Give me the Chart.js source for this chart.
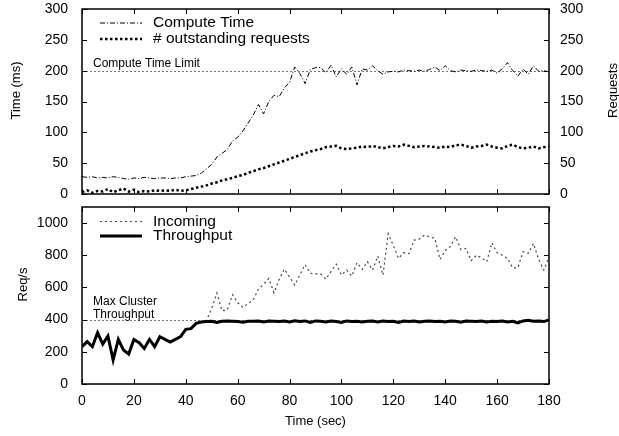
<!DOCTYPE html>
<html>
<head>
<meta charset="utf-8">
<script src="https://cdn.jsdelivr.net/npm/chart.js@4.4.0/dist/chart.umd.min.js"></script>
<style>
  html, body { margin: 0; padding: 0; background: #fff; overflow: hidden; }
  #wrap { position: relative; width: 619px; height: 436px; overflow: hidden; }
  #wrap canvas { position: absolute; left: 0; }
  #chart-time { top: 0; }
  #chart-req { top: 200px; }
</style>
</head>
<body>
<div id="wrap">
  <canvas id="chart-time" width="630" height="200"></canvas>
  <canvas id="chart-req" width="630" height="236"></canvas>
</div>
<script>
// sample times (sec)
const seconds = [
  0, 2, 4, 6, 8, 10, 12, 14, 16, 18,
  20, 22, 24, 26, 28, 30, 32, 34, 36, 38,
  40, 42, 44, 46, 48, 50, 52, 54, 56, 58,
  60, 62, 64, 66, 68, 70, 72, 74, 76, 78,
  80, 82, 84, 86, 88, 90, 92, 94, 96, 98,
  100, 102, 104, 106, 108, 110, 112, 114, 116, 118,
  120, 122, 124, 126, 128, 130, 132, 134, 136, 138,
  140, 142, 144, 146, 148, 150, 152, 154, 156, 158,
  160, 162, 164, 166, 168, 170, 172, 174, 176, 178,
  180
]

// compute time (ms)
const computeTime = [
  28, 27, 28, 26, 27, 26, 28, 27, 25, 24,
  26, 25, 27, 26, 25, 26, 26, 25, 26, 26,
  28, 29, 30, 34, 41, 48, 60, 66, 72, 86,
  92, 102, 115, 128, 145, 130, 150, 160, 158, 172,
  181, 206, 195, 179, 202, 205, 205, 197, 209, 190,
  203, 194, 206, 177, 203, 201, 208, 200, 194, 198,
  199, 198, 201, 200, 199, 201, 199, 202, 206, 200,
  208, 200, 198, 201, 200, 199, 201, 200, 199, 201,
  196, 203, 213, 200, 191, 203, 194, 208, 199, 200,
  198
]

// # outstanding requests
const outstanding = [
  3, 6, 2, 5, 4, 8, 3, 6, 9, 4,
  7, 3, 5, 4, 6, 5, 6, 5, 7, 5,
  6, 8, 10, 12, 14, 17, 19, 22, 24, 26,
  29, 31, 34, 37, 40, 42, 45, 48, 51, 54,
  57, 60, 63, 66, 69, 71, 73, 76, 77, 78,
  74, 73, 74, 75, 77, 76, 78, 76, 74, 76,
  78, 77, 80, 78, 76, 77, 78, 77, 76, 75,
  77, 76, 79, 80, 78, 75, 77, 78, 80, 77,
  75, 74, 78, 80, 76, 74, 75, 77, 74, 76,
  77
]

// incoming req/s
const incoming = [
  232, 263, 232, 319, 248, 298, 149, 277, 211, 186,
  277, 257, 221, 277, 232, 294, 277, 261, 277, 294,
  340, 344, 377, 385, 395, 470, 565, 455, 460, 555,
  505, 476, 500, 522, 590, 620, 656, 567, 650, 714,
  665, 615, 680, 742, 688, 685, 683, 652, 700, 745,
  677, 708, 671, 754, 712, 760, 708, 795, 677, 934,
  860, 781, 816, 810, 894, 900, 925, 915, 905, 774,
  830, 855, 915, 836, 843, 766, 800, 785, 760, 878,
  815, 800, 781, 722, 722, 822, 812, 874, 775, 708,
  791
]

// throughput req/s
const throughput = [
  232, 263, 232, 319, 248, 298, 149, 277, 211, 186,
  277, 257, 221, 277, 232, 294, 277, 261, 277, 294,
  340, 344, 377, 385, 388, 390, 382, 390, 392, 390,
  388, 384, 390, 390, 392, 385, 392, 390, 388, 392,
  385, 393, 388, 392, 383, 392, 390, 385, 392, 388,
  383, 392, 388, 390, 385, 390, 392, 386, 392, 388,
  390, 383, 391, 388, 392, 386, 390, 392, 388, 390,
  385, 392, 390, 384, 392, 390, 388, 392, 386, 390,
  388, 392, 386, 390, 380, 392, 396, 390, 392, 388,
  398
]

const computeLimit = 200
const maxClusterThroughput = 400

const fontFamily = "'Liberation Sans', Arial, Helvetica, sans-serif"
Chart.defaults.font.family = fontFamily
Chart.defaults.color = "#000"

const points = values => seconds.map((t, i) => ({ x: t, y: values[i] }))

// box + inward tick marks like gnuplot
const frame = {
  id: "frame",
  afterDatasetsDraw(chart) {
    const { ctx, chartArea: a, scales } = chart
    ctx.save()
    ctx.strokeStyle = "#000"
    ctx.lineWidth = 1
    ctx.beginPath()
    scales.x.ticks.forEach(t => {
      const px = Math.round(scales.x.getPixelForValue(t.value)) + 0.5
      ctx.moveTo(px, a.bottom); ctx.lineTo(px, a.bottom - 5)
      ctx.moveTo(px, a.top); ctx.lineTo(px, a.top + 5)
    })
    scales.y.ticks.forEach(t => {
      const py = Math.round(scales.y.getPixelForValue(t.value)) + 0.5
      ctx.moveTo(a.left, py); ctx.lineTo(a.left + 5, py)
      ctx.moveTo(a.right, py); ctx.lineTo(a.right - 5, py)
    })
    ctx.stroke()
    ctx.lineWidth = 1.5
    ctx.strokeRect(a.left, a.top, a.right - a.left, a.bottom - a.top)
    ctx.restore()
  }
}

// dotted reference line with a small caption
const limitLine = {
  id: "limitLine",
  beforeDatasetsDraw(chart, args, opts) {
    const { ctx, chartArea: a, scales } = chart
    const py = Math.round(scales.y.getPixelForValue(opts.value)) + 0.5
    ctx.save()
    ctx.strokeStyle = "#777"
    ctx.lineWidth = 1
    ctx.setLineDash([2, 2])
    ctx.beginPath()
    ctx.moveTo(a.left, py)
    ctx.lineTo(a.right, py)
    ctx.stroke()
    ctx.fillStyle = "#000"
    ctx.font = "12px " + fontFamily
    ctx.textBaseline = "alphabetic"
    const lines = opts.text
    lines.forEach((s, i) => {
      ctx.fillText(s, a.left + 11, py - opts.gap - (lines.length - 1 - i) * 13)
    })
    ctx.restore()
  }
}

// legend drawn inside the plot, top left
const keyBox = {
  id: "keyBox",
  afterDraw(chart, args, opts) {
    const { ctx, chartArea: a } = chart
    ctx.save()
    chart.data.datasets.forEach((ds, i) => {
      const y = a.top + opts.first + i * opts.step
      ctx.strokeStyle = ds.borderColor
      ctx.lineWidth = ds.borderWidth
      ctx.setLineDash(ds.borderDash || [])
      ctx.beginPath()
      ctx.moveTo(100, y)
      ctx.lineTo(142, y)
      ctx.stroke()
      ctx.setLineDash([])
      ctx.fillStyle = "#000"
      ctx.font = "15.5px " + fontFamily
      ctx.textBaseline = "middle"
      ctx.fillText(ds.label, 153, y)
    })
    ctx.restore()
  }
}

// y titles, both rotated bottom-to-top and sitting a bit above centre (gnuplot style)
const sideTitles = {
  id: "sideTitles",
  afterDraw(chart, args, opts) {
    const { ctx, chartArea: a } = chart
    const cy = (a.top + a.bottom) / 2 - 11
    ctx.save()
    ctx.fillStyle = "#000"
    ctx.font = "13px " + fontFamily
    ctx.textAlign = "center"
    ctx.textBaseline = "middle"
    opts.items.forEach(it => {
      ctx.save()
      ctx.translate(it.x, cy)
      ctx.rotate(-Math.PI / 2)
      ctx.fillText(it.text, 0, 0)
      ctx.restore()
    })
    ctx.restore()
  }
}

const noPad = s => { s.paddingTop = 0; s.paddingBottom = 0; s.paddingLeft = 0; s.paddingRight = 0 }
const plain = v => v

new Chart(document.getElementById("chart-time"), {
  type: "line",
  data: {
    datasets: [{
      label: "Compute Time",
      data: points(computeTime),
      borderColor: "#000",
      borderWidth: 1,
      borderDash: [5, 2, 1, 2],
      pointRadius: 0,
      yAxisID: "y"
    }, {
      label: "# outstanding requests",
      data: points(outstanding),
      borderColor: "#000",
      borderWidth: 2.5,
      borderDash: [2.5, 2.5],
      pointRadius: 0,
      yAxisID: "y2"
    }]
  },
  options: {
    responsive: false,
    animation: false,
    devicePixelRatio: 1,
    layout: { padding: { top: 9, left: 0, right: 0, bottom: 0 } },
    plugins: {
      legend: { display: false },
      tooltip: { enabled: false },
      limitLine: { value: computeLimit, text: ["Compute Time Limit"], gap: 5 },
      keyBox: { first: 14, step: 16 },
      sideTitles: { items: [{ text: "Time (ms)", x: 16 }, { text: "Requests", x: 613 }] }
    },
    scales: {
      x: {
        type: "linear", min: 0, max: 180,
        ticks: { stepSize: 20, display: false },
        grid: { display: false, drawTicks: false },
        border: { display: false },
        afterFit: s => { s.height = 6; noPad(s) }
      },
      y: {
        position: "left", min: 0, max: 300,
        ticks: { stepSize: 50, padding: 14, font: { size: 14 }, callback: plain },
        grid: { display: false, drawTicks: false },
        border: { display: false },
        afterFit: s => { s.width = 82; noPad(s) }
      },
      y2: {
        position: "right", min: 0, max: 300,
        ticks: { stepSize: 50, padding: 11, font: { size: 14 }, callback: plain },
        grid: { display: false, drawTicks: false },
        border: { display: false },
        afterFit: s => { s.width = 81; noPad(s) }
      }
    }
  },
  plugins: [limitLine, frame, keyBox, sideTitles]
})

new Chart(document.getElementById("chart-req"), {
  type: "line",
  data: {
    datasets: [{
      label: "Incoming",
      data: points(incoming),
      borderColor: "#444",
      borderWidth: 1.2,
      borderDash: [2, 3],
      pointRadius: 0,
      order: 1
    }, {
      label: "Throughput",
      data: points(throughput),
      borderColor: "#000",
      borderWidth: 3,
      pointRadius: 0,
      order: 0
    }]
  },
  options: {
    responsive: false,
    animation: false,
    devicePixelRatio: 1,
    layout: { padding: { top: 7, left: 0, right: 81, bottom: 0 } },
    plugins: {
      legend: { display: false },
      tooltip: { enabled: false },
      limitLine: { value: maxClusterThroughput, text: ["Max Cluster", "Throughput"], gap: 3 },
      keyBox: { first: 14.5, step: 14.5 },
      sideTitles: { items: [{ text: "Req/s", x: 23 }] }
    },
    scales: {
      x: {
        type: "linear", min: 0, max: 180,
        ticks: { stepSize: 20, padding: 9, font: { size: 14 }, callback: plain },
        grid: { display: false, drawTicks: false },
        border: { display: false },
        title: { display: true, text: "Time (sec)", font: { size: 13 }, padding: { top: 0, bottom: 7 } },
        afterFit: s => { s.height = 52; noPad(s) }
      },
      y: {
        min: 0, max: 1100,
        ticks: { stepSize: 200, includeBounds: false, padding: 14, font: { size: 14 }, callback: plain },
        grid: { display: false, drawTicks: false },
        border: { display: false },
        afterFit: s => { s.width = 82; noPad(s) }
      }
    }
  },
  plugins: [limitLine, frame, keyBox, sideTitles]
})
</script>
</body>
</html>
